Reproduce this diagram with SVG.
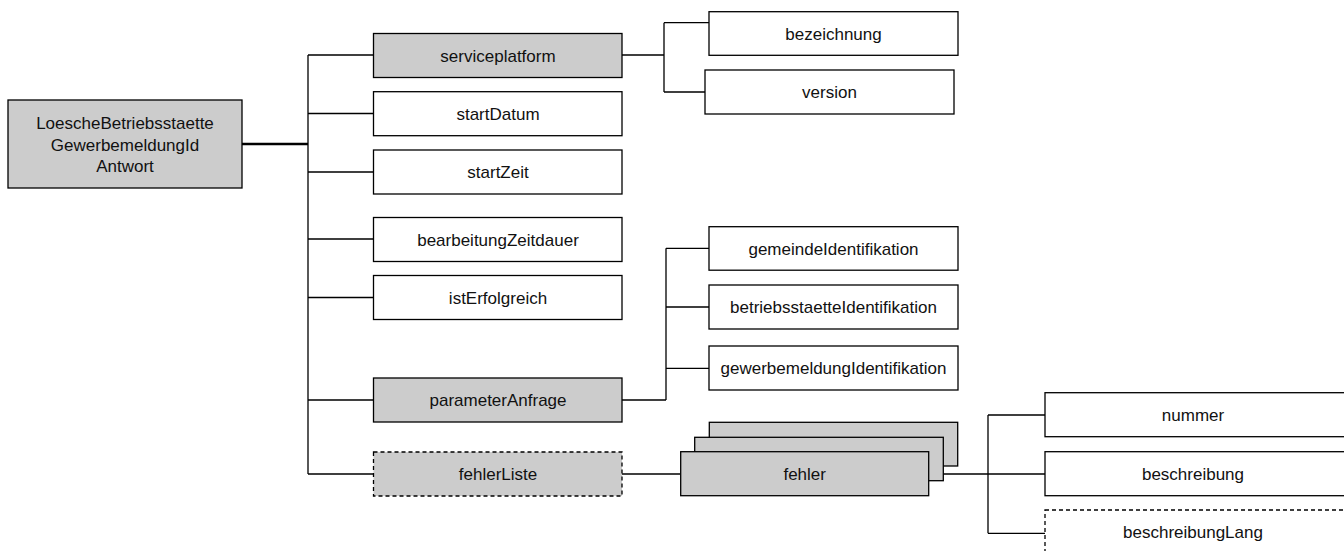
<svg xmlns="http://www.w3.org/2000/svg" width="1344" height="551" viewBox="0 0 1344 551">
<style>
.n rect{stroke:#000;stroke-width:1.3;fill:#fff}
.g rect{fill:#cccccc}
.d rect{stroke-dasharray:4 3}
text{font-family:"Liberation Sans",Arial,sans-serif;font-size:17px;fill:#111;text-anchor:middle}
#conn path{fill:none;stroke:#000;stroke-width:1.3}
</style>
<rect width="1344" height="551" fill="#fff"/>
<g id="conn">
<path d="M242 144H308" style="stroke-width:2.6"/>
<path d="M308 55V474M308 55H373M308 113.5H373M308 172H373M308 239H373M308 297.5H373M308 400H373M308 474H373"/>
<path d="M622 55H664M664 22.7V92M664 22.7H709M664 92H705"/>
<path d="M622 400H666M666 248.3V400M666 248.3H709M666 307H709M666 368.3H709"/>
<path d="M622 474H680"/>
<path d="M943 474H1045M988 415V533.3M988 415H1045M988 533.3H1045"/>
</g>
<g id="root" class="n g"><rect x="8" y="100" width="234" height="88"/><text x="125" y="129">LoescheBetriebsstaette</text><text x="125" y="150.5">GewerbemeldungId</text><text x="125" y="171.5">Antwort</text></g>
<g id="serviceplatform" class="n g"><rect x="373.5" y="33.5" width="248.5" height="44"/><text x="498" y="61.5">serviceplatform</text></g>
<g id="startDatum" class="n"><rect x="373.5" y="91.7" width="248.5" height="44"/><text x="498" y="119.5">startDatum</text></g>
<g id="startZeit" class="n"><rect x="373.5" y="150" width="248.5" height="44"/><text x="498" y="178">startZeit</text></g>
<g id="bearbeitungZeitdauer" class="n"><rect x="373.5" y="217.5" width="248.5" height="44"/><text x="498" y="245.5">bearbeitungZeitdauer</text></g>
<g id="istErfolgreich" class="n"><rect x="373.5" y="275.5" width="248.5" height="44"/><text x="498" y="303.5">istErfolgreich</text></g>
<g id="parameterAnfrage" class="n g"><rect x="373.5" y="378" width="248.5" height="44"/><text x="498" y="406">parameterAnfrage</text></g>
<g id="fehlerListe" class="n g d"><rect x="373.5" y="452" width="248.5" height="44"/><text x="498" y="480">fehlerListe</text></g>
<g id="bezeichnung" class="n"><rect x="709" y="11.7" width="249" height="43.6"/><text x="833.5" y="39.5">bezeichnung</text></g>
<g id="version" class="n"><rect x="705" y="70" width="249" height="44"/><text x="829.5" y="98">version</text></g>
<g id="gemeindeIdentifikation" class="n"><rect x="709" y="226.7" width="249" height="43.5"/><text x="833.5" y="254.5">gemeindeIdentifikation</text></g>
<g id="betriebsstaetteIdentifikation" class="n"><rect x="709" y="285" width="249" height="44"/><text x="833.5" y="313">betriebsstaetteIdentifikation</text></g>
<g id="gewerbemeldungIdentifikation" class="n"><rect x="709" y="346" width="249" height="44"/><text x="833.5" y="374">gewerbemeldungIdentifikation</text></g>
<g id="fehler" class="n g"><rect x="709.3" y="422.3" width="248.4" height="43.7"/><rect x="694.7" y="437.3" width="248.6" height="43.4"/><rect x="680.7" y="451.7" width="248" height="44"/><text x="804.7" y="479.7">fehler</text></g>
<g id="nummer" class="n"><rect x="1045" y="392.7" width="310" height="44"/><text x="1193" y="420.7">nummer</text></g>
<g id="beschreibung" class="n"><rect x="1045" y="451.7" width="310" height="44"/><text x="1193" y="479.7">beschreibung</text></g>
<g id="beschreibungLang" class="n d"><rect x="1045" y="510" width="310" height="44"/><text x="1193" y="538">beschreibungLang</text></g>
</svg>
